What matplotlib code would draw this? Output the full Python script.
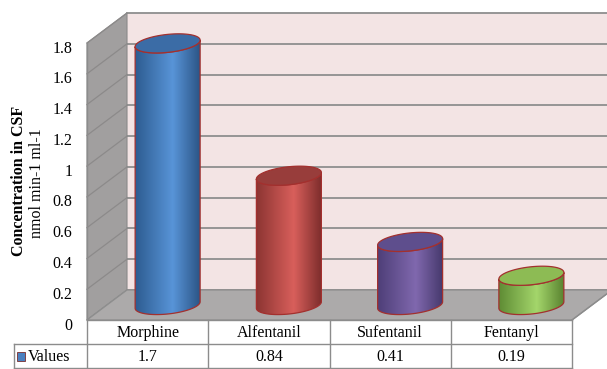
import numpy as np
import matplotlib
matplotlib.use("Agg")
import matplotlib.pyplot as plt
from matplotlib.patches import Polygon, PathPatch, Rectangle
from matplotlib.path import Path
from matplotlib.lines import Line2D
from matplotlib.transforms import IdentityTransform, ScaledTranslation
from matplotlib.colors import LinearSegmentedColormap

# ---- data ----
categories = ["Morphine", "Alfentanil", "Sufentanil", "Fentanyl"]
values = [1.7, 0.84, 0.41, 0.19]
value_labels = ["1.7", "0.84", "0.41", "0.19"]
y_ticks = [0, 0.2, 0.4, 0.6, 0.8, 1.0, 1.2, 1.4, 1.6, 1.8]
y_tick_labels = ["0", "0.2", "0.4", "0.6", "0.8", "1", "1.2", "1.4", "1.6", "1.8"]
series_name = "Values"
y_title = "Concentration in CSF"
y_unit = "nmol min-1 ml-1"

# cylinder colours: (dark left, highlight, dark right, top cap)
cyl_colors = [
    ("#2c5a8e", "#5894d8", "#2a5383", "#3b6ca6"),
    ("#8a3331", "#d85f5b", "#7c2c2b", "#983d3b"),
    ("#4d3e77", "#8068ae", "#44376a", "#5e4e8d"),
    ("#5d8a33", "#a4d66b", "#57802e", "#8dbb54"),
]
outline = "#a3302e"
grid_c = "#8e8e8e"
font = "Liberation Serif"
fs = 11.5

W, H = 607, 369
fig = plt.figure(figsize=(W / 100, H / 100), dpi=100)
fig.patch.set_facecolor("white")
ax = fig.add_axes([87 / W, 1 - 320 / H, 485 / W, 277 / H])
ax.set_xlim(-0.5, len(categories) - 0.5)
ax.set_ylim(0, 1.8)
ax.set_autoscale_on(False)
ax.patch.set_alpha(0)
for s in ax.spines.values():
    s.set_visible(False)
ax.set_xticks([])
ax.set_yticks(y_ticks)
ax.set_yticklabels(y_tick_labels, fontsize=fs, family=font, va="center")
ax.tick_params(axis="y", length=0, pad=10.5)
# tick labels sit a little below their grid level
shift = ScaledTranslation(0, -4 / 72, fig.dpi_scale_trans)
for lab in ax.get_yticklabels():
    lab.set_transform(lab.get_transform() + shift)

BACK = (40.0, 30.0)   # depth offset of the back wall, in pixels
MID = (20.0, 15.0)    # depth offset of the cylinder axis
IDT = IdentityTransform()
x0, x1 = -0.5, len(categories) - 0.5
ymax = y_ticks[-1]


def disp(x, y, dx=0.0, dy=0.0):
    X, Y = ax.transData.transform((x, y))
    return X + dx, Y + dy


def poly(pts, **kw):
    p = Polygon(pts, closed=True, transform=IDT, clip_on=False, **kw)
    ax.add_patch(p)
    return p


def line(p, q, **kw):
    ax.add_line(Line2D([p[0], q[0]], [p[1], q[1]], transform=IDT,
                       clip_on=False, **kw))


# back wall
poly([disp(x0, 0, *BACK), disp(x1, 0, *BACK), disp(x1, ymax, *BACK),
      disp(x0, ymax, *BACK)], facecolor="#f3e4e4", edgecolor="none", zorder=1)
for v in y_ticks:
    line(disp(x0, v, *BACK), disp(x1, v, *BACK), color=grid_c, lw=1.3, zorder=2)

# left side wall
poly([disp(x0, 0), disp(x0, 0, *BACK), disp(x0, ymax, *BACK), disp(x0, ymax)],
     facecolor="#a19f9f", edgecolor="#8a8a8a", lw=0.8, zorder=3)
for v in y_ticks:
    line(disp(x0, v), disp(x0, v, *BACK), color="#8c8a8a", lw=0.9, zorder=4)

# floor
poly([disp(x0, 0), disp(x1, 0), disp(x1, 0, *BACK), disp(x0, 0, *BACK)],
     facecolor="#acaaaa", edgecolor="#8e8e8e", lw=0.9, zorder=5)

# cylinders
half_w = 0.268   # half width in category units
ry = 9.0         # ellipse half height in pixels
tilt = 0.1       # rise of the ellipse from left to right


def ellipse_pts(cx, cy, a, t):
    return np.column_stack([cx + a * np.cos(t),
                            cy + ry * np.sin(t) + tilt * a * np.cos(t)])


for i, (v, cols) in enumerate(zip(values, cyl_colors)):
    cxb, cyb = disp(i, 0, *MID)
    cxt, cyt = disp(i, v, *MID)
    a = disp(i + half_w, 0)[0] - disp(i, 0)[0]
    t_front = np.linspace(np.pi, 2 * np.pi, 80)
    bottom = ellipse_pts(cxb, cyb, a, t_front)
    top_front = ellipse_pts(cxt, cyt, a, t_front[::-1])
    body = np.vstack([bottom, top_front])
    body_path = Path(np.vstack([body, body[:1]]), closed=True)
    body_patch = PathPatch(body_path, transform=IDT,
                           facecolor="none", edgecolor="none")

    cmap = LinearSegmentedColormap.from_list(
        f"cyl{i}", [(0, cols[0]), (0.58, cols[1]), (1, cols[2])])
    grad = np.linspace(0, 1, 256).reshape(1, -1)
    inv = ax.transData.inverted()
    ex0, ey0 = inv.transform((cxb - a - 1, cyb - ry - 8))
    ex1, ey1 = inv.transform((cxb + a + 1, cyt + ry + 8))
    im = ax.imshow(grad, cmap=cmap, extent=(ex0, ex1, ey0, ey1),
                   aspect="auto", interpolation="bilinear", zorder=10 + i)
    im.set_clip_box(fig.bbox)
    im.set_clip_path(body_patch)
    ax.set_xlim(x0, x1)
    ax.set_ylim(0, ymax)

    ax.add_patch(PathPatch(body_path, transform=IDT, facecolor="none",
                           edgecolor=outline, lw=0.9, zorder=10.5 + i,
                           clip_on=False))
    top = ellipse_pts(cxt, cyt, a, np.linspace(0, 2 * np.pi, 160))
    poly(top, facecolor=cols[3], edgecolor=outline, lw=0.9, zorder=10.6 + i)

# data table under the plot
row_h = 24
leg_x = 73
tc = "#8c8c8c"
line(disp(x0, 0), disp(x1, 0), color=tc, lw=1, zorder=20)
line(disp(x0, 0, -leg_x, -row_h), disp(x1, 0, 0, -row_h), color=tc, lw=1, zorder=20)
line(disp(x0, 0, -leg_x, -2 * row_h), disp(x1, 0, 0, -2 * row_h), color=tc, lw=1, zorder=20)
line(disp(x0, 0, -leg_x, -row_h), disp(x0, 0, -leg_x, -2 * row_h), color=tc, lw=1, zorder=20)
line(disp(x0, ymax), disp(x0, 0, 0, -2 * row_h), color=tc, lw=1, zorder=20)
for k in range(len(categories)):
    xb = k + 0.5
    line(disp(xb, 0), disp(xb, 0, 0, -2 * row_h), color=tc, lw=1, zorder=20)
line(disp(x1, 0), disp(x1, 0, *BACK), color=tc, lw=1, zorder=20)

for i, (name, lab) in enumerate(zip(categories, value_labels)):
    ax.text(*disp(i, 0, 0, -row_h / 2 - 1), name, transform=IDT, ha="center",
            va="center", fontsize=fs, family=font, zorder=21)
    ax.text(*disp(i, 0, 0, -1.5 * row_h - 1), lab, transform=IDT, ha="center",
            va="center", fontsize=fs, family=font, zorder=21)

sx, sy = disp(x0, 0, -leg_x + 3, -1.5 * row_h - 5)
ax.add_patch(Rectangle((sx, sy), 8, 9, transform=IDT, facecolor="#4a80c0",
                       edgecolor="#7a2e2e", lw=0.6, clip_on=False, zorder=21))
ax.text(*disp(x0, 0, -leg_x + 14, -1.5 * row_h - 1), series_name, transform=IDT,
        ha="left", va="center", fontsize=fs, family=font, zorder=21)

# axis title
fig.text(19 / W, 1 - 181 / H, y_title, rotation=90, ha="center", va="center",
         fontsize=fs, fontweight="bold", family=font)
fig.text(37 / W, 1 - 183 / H, y_unit, rotation=90, ha="center", va="center",
         fontsize=fs, family=font)

fig.savefig("out.png", dpi=100)
